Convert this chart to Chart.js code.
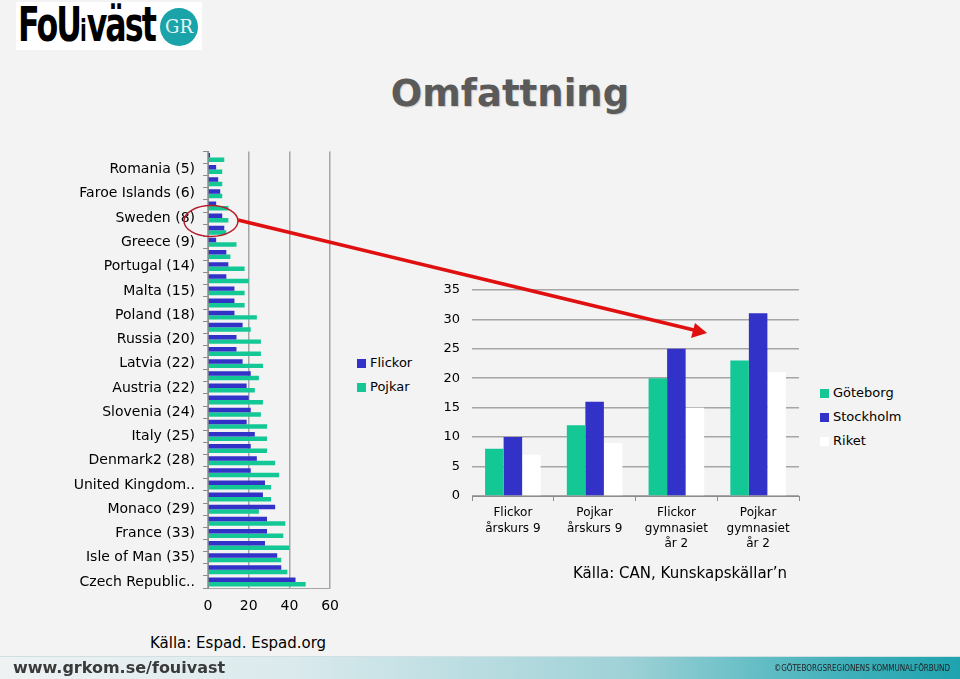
<!DOCTYPE html>
<html>
<head>
<meta charset="utf-8">
<script src="https://cdn.jsdelivr.net/npm/chart.js@4.4.1/dist/chart.umd.min.js"></script>
<style>
    html, body { margin: 0; padding: 0; }
    body {
        width: 960px; height: 679px; position: relative; overflow: hidden;
        background: #f3f3f3; font-family: 'DejaVu Sans', Verdana, sans-serif; color: #000;
    }
    .abs { position: absolute; }
    #logo { left: 16px; top: 2px; width: 186px; height: 48px; background: #fff; overflow: hidden; }
    #logo .txt { position: absolute; left: 2px; top: -6px; font: 900 48px 'DejaVu Sans', sans-serif; letter-spacing: -3px; color: #000; transform: scaleX(0.66); transform-origin: top left; white-space: nowrap; }
    #logo .i { font-size: 30px; letter-spacing: 0; }
    #logo .gr { position: absolute; left: 144px; top: 6px; width: 38px; height: 38px; border-radius: 50%; background: #1aa3a8; color: #e8f5f5; font: 18px 'DejaVu Serif', serif; text-align: center; line-height: 38px; }
    #title { left: 0; width: 1020px; top: 72px; text-align: center; font: bold 37px 'DejaVu Sans', Verdana, sans-serif; color: #5a5a5a; text-shadow: 1px 1px 1px #cfcfcf; }
    .legend { font-size: 13px; line-height: 24px; }
    .legend div { white-space: nowrap; }
    .legend span.sw { display: inline-block; width: 9px; height: 9px; margin-right: 4px; vertical-align: -1px; }
    .source { font-size: 15px; }
    #footer { left: 0; top: 656px; width: 960px; height: 23px; background: linear-gradient(to right, #eef2f3 0%, #dbeaed 30%, #9fd2d7 65%, #3fb0ba 88%, #1ea3ae 100%); border-top: 1px solid #cfdfe2; }
    #footer .url { position: absolute; left: 13px; top: 1px; font: bold 16px 'DejaVu Sans', Verdana, sans-serif; color: #3a3a3a; }
    #footer .copy { position: absolute; right: 10px; top: 7px; font: 8px 'DejaVu Sans Condensed', 'DejaVu Sans', sans-serif; color: #222; }
</style>
</head>
<body>
<div id="logo" class="abs"><div class="txt">FoU<span class="i">i</span>väst</div><div class="gr">GR</div></div>
<div id="title" class="abs">Omfattning</div>

<canvas id="espadChart" class="abs" width="309" height="490" style="left:40px; top:135px;"></canvas>
<canvas id="canChart" class="abs" width="400" height="300" style="left:420px; top:270px;"></canvas>

<div id="espadLegend" class="abs legend" style="left:357px; top:351px;"></div>
<div id="canLegend" class="abs legend" style="left:820px; top:381px;"></div>

<div class="abs source" style="left:150px; top:634px;">Källa: Espad. Espad.org</div>
<div class="abs source" style="left:573px; top:564px;">Källa: CAN, Kunskapskällar’n</div>

<svg class="abs" style="left:0; top:0;" width="960" height="679">
    <ellipse cx="211" cy="221" rx="27" ry="15.5" fill="none" stroke="#b3202c" stroke-width="1.5"/>
    <line x1="238" y1="220" x2="698" y2="331" stroke="#e01010" stroke-width="3.5"/>
    <polygon points="707,333 691,338 695,323" fill="#e01010"/>
</svg>

<div id="footer" class="abs">
    <div class="url">www.grkom.se/fouivast</div>
    <div class="copy">©GÖTEBORGSREGIONENS KOMMUNALFÖRBUND</div>
</div>

<script>
// ESPAD - vänster diagram (bara varannan kategori har synlig etikett)
const espadCategories = [
    '', 'Romania (5)', '', 'Faroe Islands (6)', '', 'Sweden (8)',
    '', 'Greece (9)', '', 'Portugal (14)', '', 'Malta (15)',
    '', 'Poland (18)', '', 'Russia (20)', '', 'Latvia (22)',
    '', 'Austria (22)', '', 'Slovenia (24)', '', 'Italy (25)',
    '', 'Denmark2 (28)', '', 'United Kingdom..', '', 'Monaco (29)',
    '', 'France (33)', '', 'Isle of Man (35)', '', 'Czech Republic..'
];
const espadFlickor = [1, 4, 5, 6, 4, 7, 8, 4, 9, 10, 9, 13, 13, 13, 17, 14, 14, 17,
                      21, 19, 20, 21, 19, 23, 21, 24, 21, 28, 27, 33, 29, 29, 28, 34, 36, 43];
const espadPojkar = [8, 7, 7, 7, 10, 10, 9, 14, 11, 18, 20, 18, 18, 24, 21, 26, 26, 27,
                     25, 23, 27, 26, 29, 29, 29, 33, 35, 31, 31, 25, 38, 37, 40, 36, 39, 48];
const espadSeries = ['Flickor', 'Pojkar'];
const espadTicks = [0, 20, 40, 60];

// CAN - höger diagram
const canCategories = [
    ['Flickor', 'årskurs 9'],
    ['Pojkar', 'årskurs 9'],
    ['Flickor', 'gymnasiet', 'år 2'],
    ['Pojkar', 'gymnasiet', 'år 2']
];
const canGoteborg = [8, 12, 20, 23];
const canStockholm = [10, 16, 25, 31];
const canRiket = [7, 9, 15, 21];
const canSeries = ['Göteborg', 'Stockholm', 'Riket'];
const canTicks = [0, 5, 10, 15, 20, 25, 30, 35];

const BLUE = '#3232c8';
const GREEN = '#14c896';
const WHITE = '#ffffff';
const GRID = '#a6a6a6';

Chart.defaults.font.family = "'DejaVu Sans', Verdana, sans-serif";
Chart.defaults.color = '#000';

function buildLegend(id, names, colors) {
    const box = document.getElementById(id);
    names.forEach((name, i) => {
        const row = document.createElement('div');
        row.innerHTML = '<span class="sw" style="background:' + colors[i] + '"></span>' + name;
        box.appendChild(row);
    });
}

new Chart(document.getElementById('espadChart'), {
    type: 'bar',
    data: {
        labels: espadCategories,
        datasets: [
            { label: espadSeries[0], data: espadFlickor, backgroundColor: BLUE },
            { label: espadSeries[1], data: espadPojkar, backgroundColor: GREEN }
        ]
    },
    options: {
        indexAxis: 'y',
        responsive: false,
        animation: false,
        devicePixelRatio: 1,
        layout: { padding: { top: 5, right: 12 } },
        datasets: { bar: { categoryPercentage: 0.74, barPercentage: 1.0 } },
        plugins: { legend: { display: false }, tooltip: { enabled: false } },
        scales: {
            x: {
                min: espadTicks[0],
                max: espadTicks[espadTicks.length - 1],
                afterBuildTicks: (scale) => { scale.ticks = espadTicks.map(v => ({ value: v })); },
                afterFit: (scale) => { scale.height = 37; },
                grid: { color: GRID, lineWidth: 1.5, drawTicks: false },
                border: { color: GRID },
                ticks: { font: { size: 14 }, padding: 10 }
            },
            y: {
                afterFit: (scale) => { scale.width = 168; },
                grid: { drawOnChartArea: false, drawTicks: true, tickLength: 5, offset: true, color: '#8c8c8c' },
                border: { color: '#8c8c8c' },
                ticks: { autoSkip: false, font: { size: 14 }, padding: 8 }
            }
        }
    }
});

new Chart(document.getElementById('canChart'), {
    type: 'bar',
    data: {
        labels: canCategories,
        datasets: [
            { label: canSeries[0], data: canGoteborg, backgroundColor: GREEN },
            { label: canSeries[1], data: canStockholm, backgroundColor: BLUE },
            { label: canSeries[2], data: canRiket, backgroundColor: WHITE }
        ]
    },
    options: {
        responsive: false,
        animation: false,
        devicePixelRatio: 1,
        layout: { padding: { top: 18, right: 21 } },
        datasets: { bar: { categoryPercentage: 0.68, barPercentage: 1.0 } },
        plugins: { legend: { display: false }, tooltip: { enabled: false } },
        scales: {
            x: {
                afterFit: (scale) => { scale.height = 74; },
                grid: { drawOnChartArea: false, drawTicks: true, tickLength: 5, offset: true, color: '#8c8c8c' },
                border: { color: '#8c8c8c' },
                ticks: { font: { size: 12, lineHeight: 1.3 }, padding: 4, maxRotation: 0 }
            },
            y: {
                min: canTicks[0],
                max: canTicks[canTicks.length - 1],
                afterBuildTicks: (scale) => { scale.ticks = canTicks.map(v => ({ value: v })); },
                afterFit: (scale) => { scale.width = 52; },
                grid: { color: GRID, lineWidth: 1.5, drawTicks: false },
                border: { display: false },
                ticks: { font: { size: 13 }, padding: 12 }
            }
        }
    }
});

buildLegend('espadLegend', espadSeries, [BLUE, GREEN]);
buildLegend('canLegend', canSeries, [GREEN, BLUE, WHITE]);
</script>
</body>
</html>
